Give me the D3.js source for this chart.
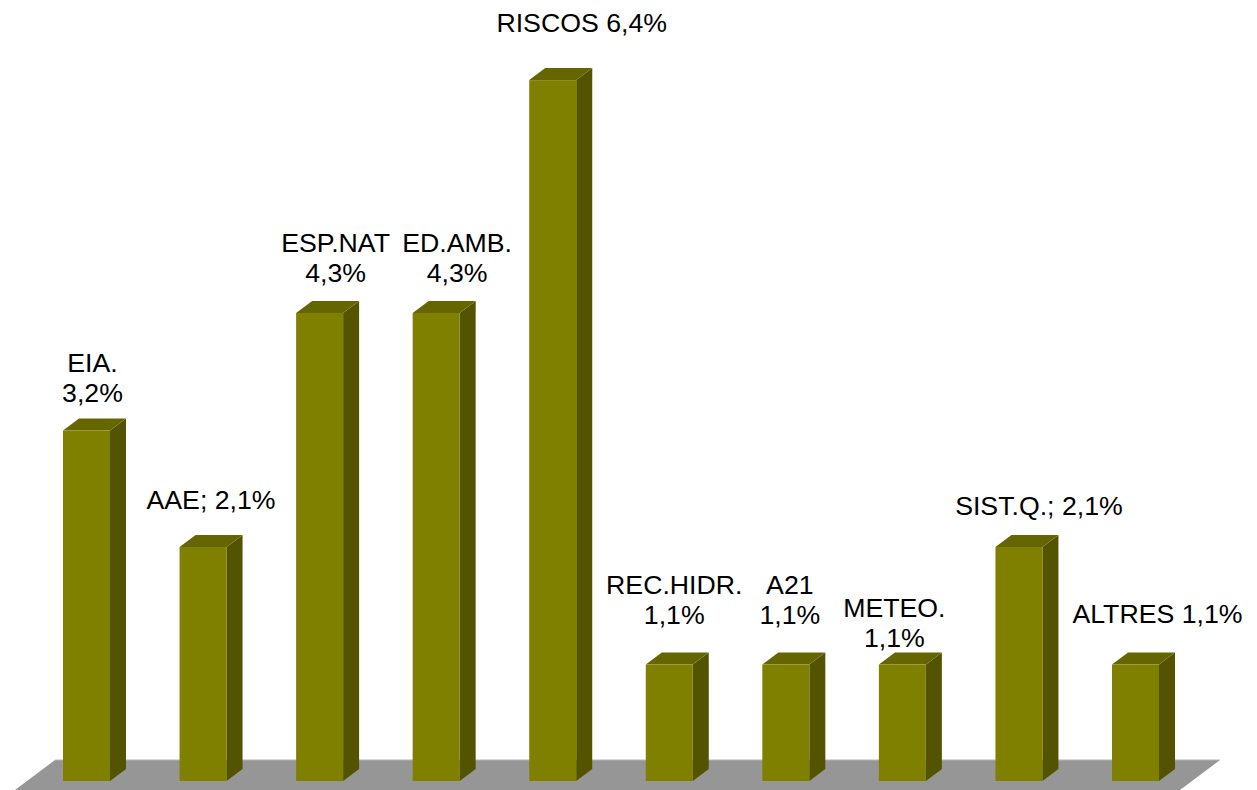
<!DOCTYPE html>
<html>
<head>
<meta charset="utf-8">
<script src="https://cdn.jsdelivr.net/npm/d3@7"></script>
<style>
  html, body { margin: 0; padding: 0; background: #ffffff; }
  svg { display: block; }
  text { font-family: "Liberation Sans", Arial, sans-serif; font-size: 26.7px; fill: #000; }
</style>
</head>
<body>
<svg id="chart" width="1257" height="790"></svg>
<script>
// ---- data ----
const categories = ["EIA", "AAE", "ESP.NAT", "ED.AMB", "RISCOS", "REC.HIDR", "A21", "METEO", "SIST.Q", "ALTRES"];
const values = [3.19, 2.13, 4.26, 4.26, 6.38, 1.06, 1.06, 1.06, 2.13, 1.06];
const labelLines = [
  ["EIA.", "3,2%"],
  ["AAE; 2,1%"],
  ["ESP.NAT", "4,3%"],
  ["ED.AMB.", "4,3%"],
  ["RISCOS 6,4%"],
  ["REC.HIDR.", "1,1%"],
  ["A21", "1,1%"],
  ["METEO.", "1,1%"],
  ["SIST.Q.; 2,1%"],
  ["ALTRES 1,1%"]
];
// ---- layout (label nudges relative to bar top, in px) ----
const labelNudge = [[-2, -17], [0, -26], [8, -19], [13, -19], [21, -36], [-3, -29], [-4, -29], [-16, -6], [12, -20], [14, -30]];

const svg = d3.select("#chart");
const depthX = 16, depthY = 12, lineH = 30;

const x = d3.scaleBand().domain(categories).range([63, 1159]).paddingInner(0.5968).paddingOuter(0);
const y = d3.scaleLinear().domain([0, 7]).range([781, 12]);
const y0 = y(0);

// floor
const floorL = x.range()[0] - 8, floorR = x.range()[1] + 61;
const floorBack = y0 - 21, floorFront = y0 + 12;
const slope = depthX / depthY;
svg.append("polygon")
  .attr("points", [
    [floorL, floorBack], [floorR, floorBack],
    [floorR - (floorFront - floorBack) * slope, floorFront],
    [floorL - (floorFront - floorBack) * slope, floorFront]
  ].map(p => p.join(",")).join(" "))
  .attr("fill", "#969696");
svg.append("line")
  .attr("x1", floorL).attr("x2", floorR).attr("y1", floorBack).attr("y2", floorBack)
  .attr("stroke", "#b4b4b4").attr("stroke-width", 1);

const bw = x.bandwidth();
const g = svg.append("g");
categories.forEach((c, i) => {
  const x0 = x(c), x1 = x0 + bw, yt = y(values[i]);
  g.append("polygon")
    .attr("points", [[x1, yt], [x1 + depthX, yt - depthY], [x1 + depthX, y0 - depthY], [x1, y0]].map(p => p.join(",")).join(" "))
    .attr("fill", "#545400");
  g.append("polygon")
    .attr("points", [[x0, yt], [x0 + depthX, yt - depthY], [x1 + depthX, yt - depthY], [x1, yt]].map(p => p.join(",")).join(" "))
    .attr("fill", "#666600");
  g.append("rect")
    .attr("x", x0).attr("y", yt).attr("width", bw).attr("height", y0 - yt)
    .attr("fill", "#808000");

  const cx = x0 + bw / 2 + depthX / 2 + labelNudge[i][0];
  const baseLast = yt - depthY + labelNudge[i][1];
  const lines = labelLines[i];
  const t = svg.append("text").attr("text-anchor", "middle");
  lines.forEach((ln, k) => {
    t.append("tspan")
      .attr("x", cx)
      .attr("y", baseLast - (lines.length - 1 - k) * lineH)
      .text(ln);
  });
});
</script>
</body>
</html>
